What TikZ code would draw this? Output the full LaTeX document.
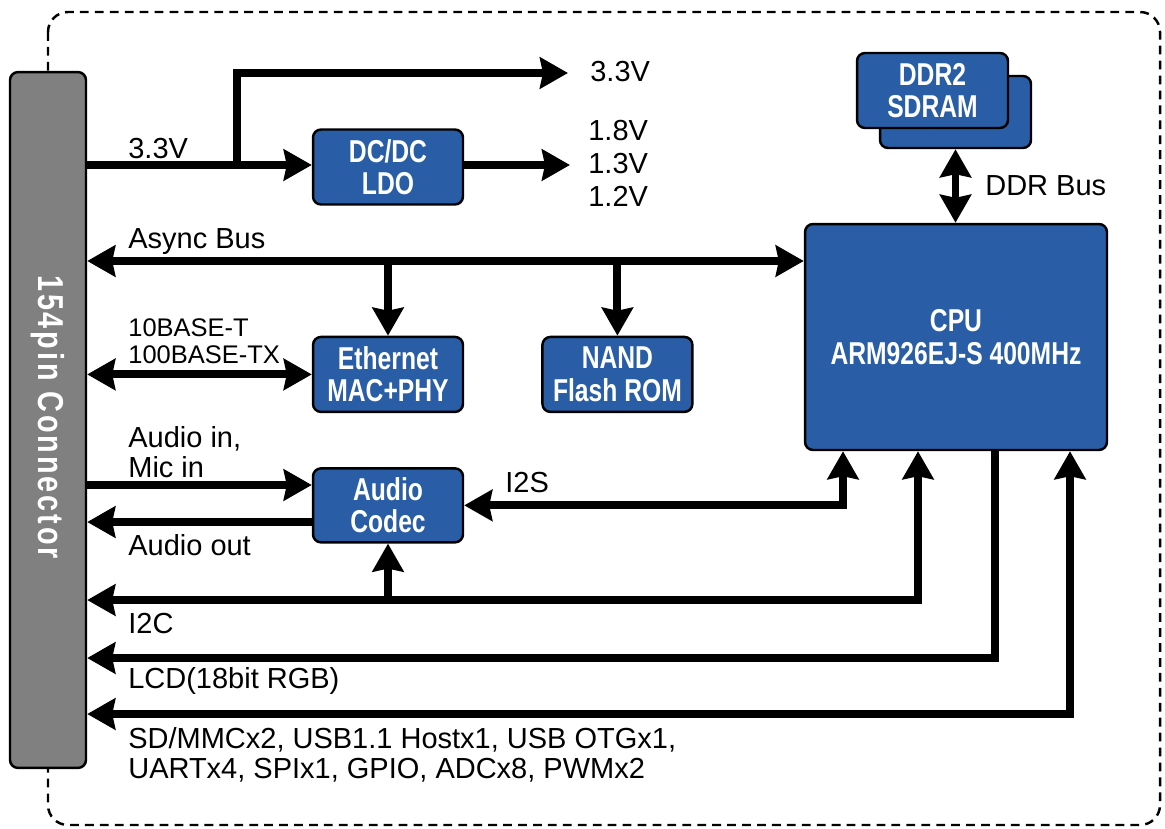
\documentclass[tikz,border=0pt]{standalone}
\usepackage{fontspec}
\setmainfont{Liberation Sans}
\newfontfamily\boxfont[FakeStretch=0.78]{Liberation Sans}
\newfontfamily\connfont[FakeStretch=0.8,LetterSpace=8]{Liberation Sans}
\usepackage{tikz}
\usetikzlibrary{arrows.meta, positioning, calc}
\definecolor{chipblue}{RGB}{41,94,166}
\definecolor{conngray}{RGB}{128,128,128}

\begin{document}
\begin{tikzpicture}[
    x=0.02cm, y=-0.02cm,
    blockbox/.style={
        draw, line width=1.4pt, rounded corners=0.16cm, fill=chipblue,
        text=white, align=center, inner sep=0pt,
        font=\boxfont\bfseries\fontsize{18}{18.5}\selectfont,
        minimum width=3cm, minimum height=1.5cm
    },
    connbox/.style={
        draw, line width=1.4pt, rounded corners=0.16cm, fill=conngray,
        minimum width=1.52cm, minimum height=13.92cm, inner sep=0pt
    },
    lbl/.style={font=\fontsize{16.5}{17}\selectfont, inner sep=0pt, align=left, anchor=west},
    bus/.style={draw, line width=4.5pt},
    >={Stealth[length=0.56cm, width=0.62cm, inset=0.06cm]}
]
    \useasboundingbox (0,0) rectangle (1165,828);
    % board outline
    \draw[line width=1.4pt, dash pattern=on 5pt off 3.5pt, rounded corners=0.4cm] (48,12) rectangle (1160,825);

    % blocks
    \node[connbox] (conn) at (48,420) {};
    \node[text=white, rotate=-90, font=\connfont\bfseries\fontsize{20.5}{22}\selectfont] (connlbl) at (48,417) {154pin Connector};
    \node[blockbox] (dcdc) at (388,167) {DC/DC\\LDO};
    \node[blockbox, below=2.6cm of dcdc] (eth) {Ethernet\\MAC+PHY};
    \node[blockbox, right=1.54cm of eth] (nand) {NAND\\Flash ROM};
    \node[blockbox, below=1.08cm of eth, minimum height=1.48cm] (codec) {Audio\\Codec};
    \node[blockbox, minimum width=6.04cm, minimum height=4.52cm] (cpu) at (956,337) {CPU\\ARM926EJ-S 400MHz};
    \node[blockbox, minimum width=3.02cm, minimum height=1.44cm] (ddrback) at (955.5,112) {};
    \node[blockbox, minimum width=3.02cm] (ddr) at (932.5,90.5) {DDR2\\SDRAM};

    % bus rows and corners
    \coordinate (tap) at (237,165);
    \coordinate (o33) at (568,73);
    \coordinate (ovolt) at (570,165);
    \coordinate (yAsync) at (0,261);
    \coordinate (yAin) at (0,485);
    \coordinate (yAout) at (0,522);
    \coordinate (pI2S) at (843,0);
    \coordinate (pI2C) at (918,600);
    \coordinate (pLCD) at (995,658);
    \coordinate (pSD) at (1070,714);

    % power
    \draw[bus, ->] (conn.east |- tap) -- (dcdc.west |- tap);
    \draw[bus, ->] (tap) |- (o33);
    \draw[bus, ->] (dcdc.east |- ovolt) -- (ovolt);
    % memory and buses
    \draw[bus, <->] (ddrback.south) -- (ddrback.south |- cpu.north);
    \draw[bus, <->] (conn.east |- yAsync) -- (cpu.west |- yAsync);
    \draw[bus, ->] (eth.north |- yAsync) -- (eth.north);
    \draw[bus, ->] (nand.north |- yAsync) -- (nand.north);
    \draw[bus, <->] (conn.east |- eth.west) -- (eth.west);
    % audio
    \draw[bus, ->] (conn.east |- yAin) -- (codec.west |- yAin);
    \draw[bus, ->] (codec.west |- yAout) -- (conn.east |- yAout);
    \draw[bus, <->] (codec.east) -| (pI2S |- cpu.south);
    % peripherals
    \draw[bus, <->] (conn.east |- pI2C) -| (cpu.south -| pI2C);
    \draw[bus, ->] (codec.south |- pI2C) -- (codec.south);
    \draw[bus, ->] (cpu.south -| pLCD) |- (conn.east |- pLCD);
    \draw[bus, <->] (conn.east |- pSD) -| (cpu.south -| pSD);

    % labels
    \node[lbl] (l33in) at (128,149) {3.3V};
    \node[lbl] (l33out) at (590,72) {3.3V};
    \node[lbl, font=\fontsize{16.5}{18.8}\selectfont] (lvolt) at (588,163) {1.8V\\1.3V\\1.2V};
    \node[lbl] (lddr) at (985,186) {DDR Bus};
    \node[lbl] (lasync) at (128,242) {Async Bus};
    \node[lbl, font=\fontsize{14.5}{15.4}\selectfont] (leth) at (128,341) {10BASE-T\\100BASE-TX};
    \node[lbl] (lain) at (128,452) {Audio in,\\Mic in};
    \node[lbl] (li2s) at (505,483) {I2S};
    \node[lbl] (laout) at (128,545) {Audio out};
    \node[lbl] (li2c) at (128,624) {I2C};
    \node[lbl] (llcd) at (128,681) {LCD(18bit RGB)};
    \node[lbl] (lsd) at (128,755) {SD/MMCx2, USB1.1 Hostx1, USB OTGx1,\\UARTx4, SPIx1, GPIO, ADCx8, PWMx2};
\end{tikzpicture}
\end{document}
